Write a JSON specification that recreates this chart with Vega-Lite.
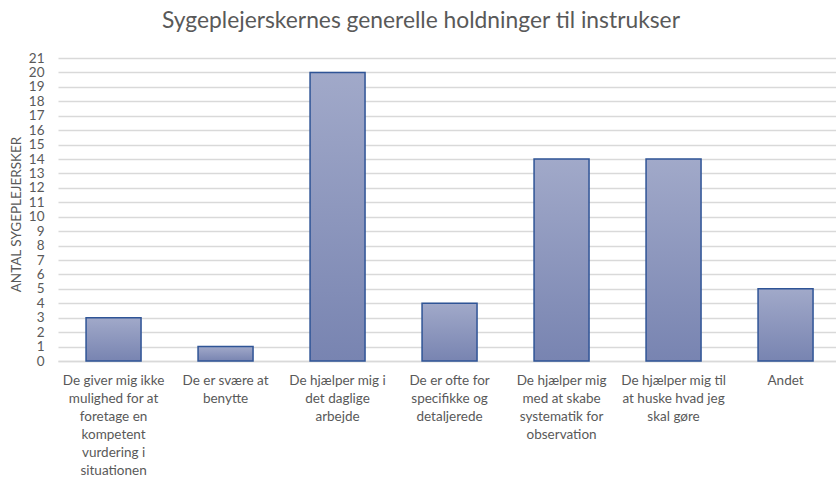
{
  "$schema": "https://vega.github.io/schema/vega-lite/v6.json",
  "autosize": "none",
  "width": 778,
  "height": 303,
  "padding": {"left": 58, "top": 58, "right": 0, "bottom": 116},
  "background": "white",
  "title": {
    "text": "Sygeplejerskernes generelle holdninger til instrukser",
    "font": "Lato",
    "fontSize": 22.8,
    "fontWeight": "normal",
    "color": "#595959",
    "anchor": "middle",
    "frame": "group",
    "dx": -26,
    "offset": 18
  },
  "data": {
    "values": [
      {"svar": "De giver mig ikke|mulighed for at|foretage en|kompetent|vurdering i|situationen", "antal": 3},
      {"svar": "De er svære at|benytte", "antal": 1},
      {"svar": "De hjælper mig i|det daglige|arbejde", "antal": 20},
      {"svar": "De er ofte for|specifikke og|detaljerede", "antal": 4},
      {"svar": "De hjælper mig|med at skabe|systematik for|observation", "antal": 14},
      {"svar": "De hjælper mig til|at huske hvad jeg|skal gøre", "antal": 14},
      {"svar": "Andet", "antal": 5}
    ]
  },
  "mark": {
    "type": "bar",
    "stroke": "#2f5496",
    "strokeWidth": 1.5,
    "color": {
      "gradient": "linear",
      "x1": 0, "y1": 0, "x2": 0, "y2": 1,
      "stops": [
        {"offset": 0, "color": "#a1a9c9"},
        {"offset": 1, "color": "#7884b1"}
      ]
    }
  },
  "encoding": {
    "x": {
      "field": "svar",
      "type": "nominal",
      "sort": null,
      "scale": {"paddingInner": 0.509, "paddingOuter": 0.2277, "align": 0.55},
      "axis": {
        "title": null,
        "labelAngle": 0,
        "labelExpr": "split(datum.label, '|')",
        "labelFont": "Lato",
        "labelFontSize": 13.5,
        "labelColor": "#595959",
        "labelLineHeight": 18,
        "labelPadding": 12,
        "labelBaseline": "top",
        "labelLimit": 200,
        "ticks": false,
        "domainColor": "#d9d9d9",
        "domainWidth": 1.5,
        "grid": false
      }
    },
    "y": {
      "field": "antal",
      "type": "quantitative",
      "scale": {"domain": [0, 21], "nice": false},
      "axis": {
        "title": "ANTAL SYGEPLEJERSKER",
        "titleFont": "Lato",
        "titleFontSize": 13.5,
        "titleFontWeight": "normal",
        "titleColor": "#595959",
        "titleX": -42,
        "titleY": 156,
        "titleAngle": -90,
        "titleAlign": "center",
        "titleBaseline": "middle",
        "values": [0,1,2,3,4,5,6,7,8,9,10,11,12,13,14,15,16,17,18,19,20,21],
        "labelFont": "Lato",
        "labelFontSize": 13.5,
        "labelColor": "#595959",
        "labelPadding": 14,
        "ticks": false,
        "domain": false,
        "grid": true,
        "gridColor": "#d9d9d9",
        "gridWidth": 1.5
      }
    }
  },
  "config": {
    "view": {"stroke": null}
  }
}
